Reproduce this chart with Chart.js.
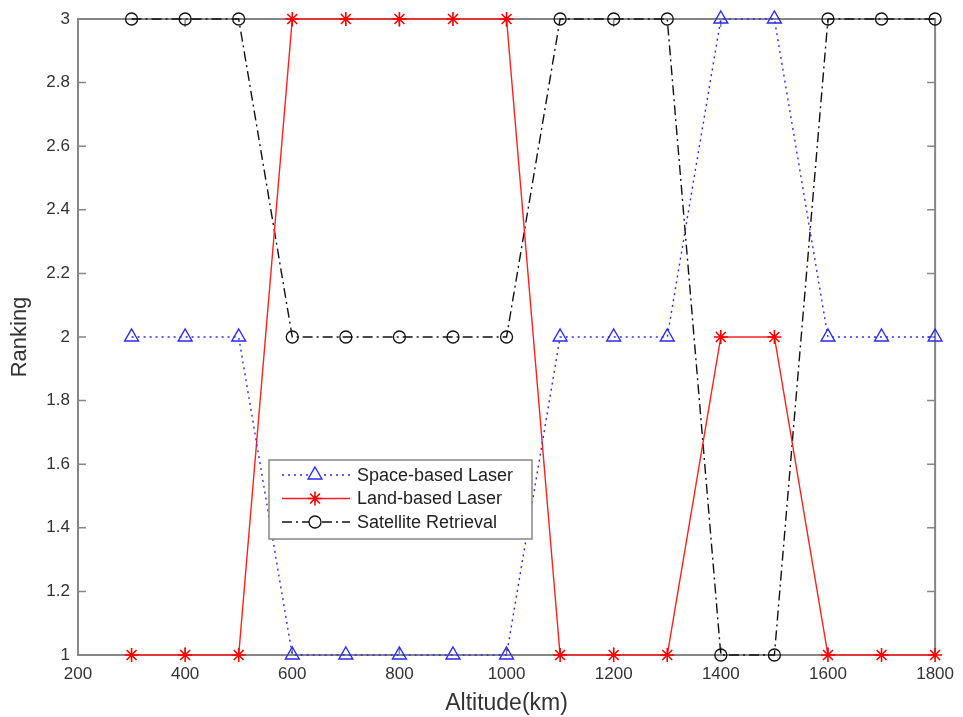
<!DOCTYPE html>
<html>
<head>
<meta charset="utf-8">
<script src="https://cdn.jsdelivr.net/npm/chart.js@4.4.1/dist/chart.umd.min.js"></script>
<style>
  html, body { margin: 0; padding: 0; background: #fff; }
  #wrap { width: 963px; height: 717px; }
</style>
</head>
<body>
<div id="wrap"><canvas id="rankChart" width="963" height="717"></canvas></div>
<script>
// Altitude (km) and rankings
const altitudes = [300, 400, 500, 600, 700, 800, 900, 1000, 1100, 1200, 1300, 1400, 1500, 1600, 1700, 1800];
const spaceLaser = [2, 2, 2, 1, 1, 1, 1, 1, 2, 2, 2, 3, 3, 2, 2, 2];
const landLaser  = [1, 1, 1, 3, 3, 3, 3, 3, 1, 1, 1, 2, 2, 1, 1, 1];
const satRetrieval = [3, 3, 3, 2, 2, 2, 2, 2, 3, 3, 3, 1, 1, 3, 3, 3];
const seriesNames = ['Space-based Laser', 'Land-based Laser', 'Satellite Retrieval'];

const FONT = 'Arial, "Liberation Sans", sans-serif';
const AXIS_GREY = '#868686';

const toPoints = (vals) => altitudes.map((x, i) => ({ x: x, y: vals[i] }));

// Frame around plot area with inward tick marks (MATLAB style)
const framePlugin = {
    id: 'frame',
    beforeDatasetsDraw(chart) {
        const { ctx, chartArea: a, scales } = chart;
        ctx.save();
        ctx.strokeStyle = AXIS_GREY;
        ctx.lineWidth = 2;
        ctx.strokeRect(a.left, a.top, a.right - a.left, a.bottom - a.top);
        ctx.lineWidth = 1.5;
        ctx.beginPath();
        scales.x.ticks.forEach(t => {
            const px = scales.x.getPixelForValue(t.value);
            ctx.moveTo(px, a.bottom); ctx.lineTo(px, a.bottom - 8);
            ctx.moveTo(px, a.top); ctx.lineTo(px, a.top + 8);
        });
        scales.y.ticks.forEach(t => {
            const py = scales.y.getPixelForValue(t.value);
            ctx.moveTo(a.left, py); ctx.lineTo(a.left + 8, py);
            ctx.moveTo(a.right, py); ctx.lineTo(a.right - 8, py);
        });
        ctx.stroke();
        ctx.restore();
    }
};

// Legend box drawn inside the plot, using each dataset's own style
const boxLegend = {
    id: 'boxLegend',
    afterDraw(chart) {
        const { ctx } = chart;
        const x0 = 269, y0 = 460, w = 263, h = 79;
        ctx.save();
        ctx.fillStyle = '#fff';
        ctx.fillRect(x0, y0, w, h);
        ctx.strokeStyle = AXIS_GREY;
        ctx.lineWidth = 1.5;
        ctx.strokeRect(x0, y0, w, h);
        chart.data.datasets.forEach((ds, i) => {
            const cy = y0 + 15 + i * 23.5;
            ctx.strokeStyle = ds.borderColor;
            ctx.lineWidth = ds.borderWidth;
            ctx.setLineDash(ds.borderDash || []);
            ctx.beginPath();
            ctx.moveTo(x0 + 13, cy); ctx.lineTo(x0 + 81, cy);
            ctx.stroke();
            ctx.setLineDash([]);
            ctx.fillStyle = '#fff';
            ctx.strokeStyle = ds.pointBorderColor;
            ctx.lineWidth = ds.pointBorderWidth;
            Chart.helpers.drawPoint(ctx, {
                pointStyle: ds.pointStyle,
                radius: ds.pointRadius,
                borderWidth: ds.pointBorderWidth,
                rotation: 0
            }, x0 + 46, cy);
            ctx.fillStyle = '#222';
            ctx.font = '18px ' + FONT;
            ctx.textBaseline = 'middle';
            ctx.fillText(ds.label, x0 + 88, cy + 1);
        });
        ctx.restore();
    }
};

const ctx = document.getElementById('rankChart').getContext('2d');
new Chart(ctx, {
    type: 'line',
    data: {
        datasets: [
            {
                label: seriesNames[0],
                data: toPoints(spaceLaser),
                borderColor: '#2a2aff',
                borderWidth: 1.4,
                borderDash: [2, 4],
                pointStyle: 'triangle',
                pointRadius: 8,
                pointBorderWidth: 1.4,
                pointBorderColor: '#2a2aff',
                pointBackgroundColor: 'rgba(255,255,255,0)',
                tension: 0,
                fill: false,
                clip: false
            },
            {
                label: seriesNames[1],
                data: toPoints(landLaser),
                borderColor: '#ff2020',
                borderWidth: 1.4,
                borderDash: [],
                pointStyle: 'star',
                pointRadius: 7,
                pointBorderWidth: 1.6,
                pointBorderColor: '#ff0000',
                pointBackgroundColor: '#ff0000',
                tension: 0,
                fill: false,
                clip: false
            },
            {
                label: seriesNames[2],
                data: toPoints(satRetrieval),
                borderColor: '#111',
                borderWidth: 1.4,
                borderDash: [10, 4, 2, 4],
                pointStyle: 'circle',
                pointRadius: 6,
                pointBorderWidth: 1.3,
                pointBorderColor: '#111',
                pointBackgroundColor: 'rgba(255,255,255,0)',
                tension: 0,
                fill: false,
                clip: false
            }
        ]
    },
    options: {
        responsive: false,
        animation: false,
        devicePixelRatio: 1,
        layout: { padding: { top: 19, right: 24, left: 0, bottom: 0 } },
        plugins: {
            legend: { display: false },
            tooltip: { enabled: false }
        },
        scales: {
            x: {
                type: 'linear',
                min: 200,
                max: 1800,
                ticks: {
                    stepSize: 200,
                    color: '#333',
                    font: { family: FONT, size: 17 },
                    padding: 9,
                    maxRotation: 0,
                    callback: v => String(v)
                },
                grid: { display: false, drawTicks: false },
                border: { display: false },
                title: {
                    display: true,
                    text: 'Altitude(km)',
                    color: '#333',
                    font: { family: FONT, size: 23 },
                    padding: { top: 0, bottom: 0 }
                },
                afterFit(scale) { scale.height = 62; }
            },
            y: {
                type: 'linear',
                min: 1,
                max: 3,
                ticks: {
                    stepSize: 0.2,
                    color: '#333',
                    font: { family: FONT, size: 17 },
                    padding: 8,
                    callback: v => String(Number(v.toFixed(1)))
                },
                grid: { display: false, drawTicks: false },
                border: { display: false },
                title: {
                    display: true,
                    text: 'Ranking',
                    color: '#333',
                    font: { family: FONT, size: 22 },
                    padding: { top: 7, bottom: 0 }
                },
                afterFit(scale) { scale.width = 78; }
            }
        }
    },
    plugins: [framePlugin, boxLegend]
});
</script>
</body>
</html>
